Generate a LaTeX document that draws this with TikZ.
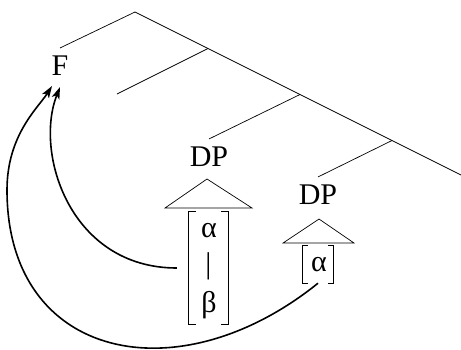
\documentclass[tikz,border=0pt]{standalone}
\usepackage{fontspec}
\setmainfont{Liberation Serif}
\usetikzlibrary{arrows.meta}
\begin{document}
\begin{tikzpicture}[x=1pt,y=-1pt,
  lbl/.style={inner xsep=0pt, inner ysep=8pt, font=\fontsize{30}{34}\selectfont},
  sym/.style={inner sep=0pt, font=\fontsize{30}{34}\selectfont},
  box/.style={inner sep=0pt, draw=none},
  branch/.style={line width=0.7pt},
  tri/.style={line width=0.7pt},
  brk/.style={line width=1.1pt},
  mv/.style={line width=1.6pt, -{Stealth[length=12pt,width=8pt,inset=3pt]}}]
\useasboundingbox (0,0) rectangle (461,349);
% tree
\coordinate (top) at (135,12);
\coordinate (n1) at (208,48.5);
\coordinate (n2) at (300,94.5);
\coordinate (n3) at (392,140.5);
\coordinate (e1) at (117,94);
\coordinate (e3) at (461,175);
\node[lbl] (F) at (60,66) {F};
\node[lbl] (DP1) at (209,157) {DP};
\node[lbl] (DP2) at (318,195) {DP};
\draw[branch] (F.north) -- (top) -- (n1) -- (n2) -- (n3) -- (e3);
\draw[branch] (n1) -- (e1);
\draw[branch] (n2) -- (DP1.north);
\draw[branch] (n3) -- (DP2.north);
% triangles
\draw[tri] (207,179) -- (252,208) -- (165,208) -- cycle;
\draw[tri] (319,219) -- (354,243) -- (283,243) -- cycle;
% feature boxes
\node[box, minimum width=39pt, minimum height=112pt] (box1) at (208.5,268) {};
\node[sym] (a1) at (209,231) {α};
\node[sym] (bar) at (208.5,266) {|};
\node[sym] (b1) at (209,305.5) {β};
\draw[brk] ([xshift=7pt]box1.north west) -- (box1.north west) -- (box1.south west) -- ([xshift=7pt]box1.south west);
\draw[brk] ([xshift=-7pt]box1.north east) -- (box1.north east) -- (box1.south east) -- ([xshift=-7pt]box1.south east);
\node[box, minimum width=30pt, minimum height=37pt] (box2) at (318,264.5) {};
\node[sym] (a2) at (319,264.5) {α};
\draw[brk] ([xshift=5pt]box2.north west) -- (box2.north west) -- (box2.south west) -- ([xshift=5pt]box2.south west);
\draw[brk] ([xshift=-5pt]box2.north east) -- (box2.north east) -- (box2.south east) -- ([xshift=-5pt]box2.south east);
% movement arrows
\draw[mv] ([xshift=-12pt]box1.west) .. controls (70,268) and (34,153) .. ([yshift=-3pt]F.south);
\draw[mv] (box2.south) .. controls (178,396) and (7,360) .. (7,190) .. controls (7,135) and (38,108) .. ([shift={(-8pt,-2pt)}]F.south);
\end{tikzpicture}
\end{document}
